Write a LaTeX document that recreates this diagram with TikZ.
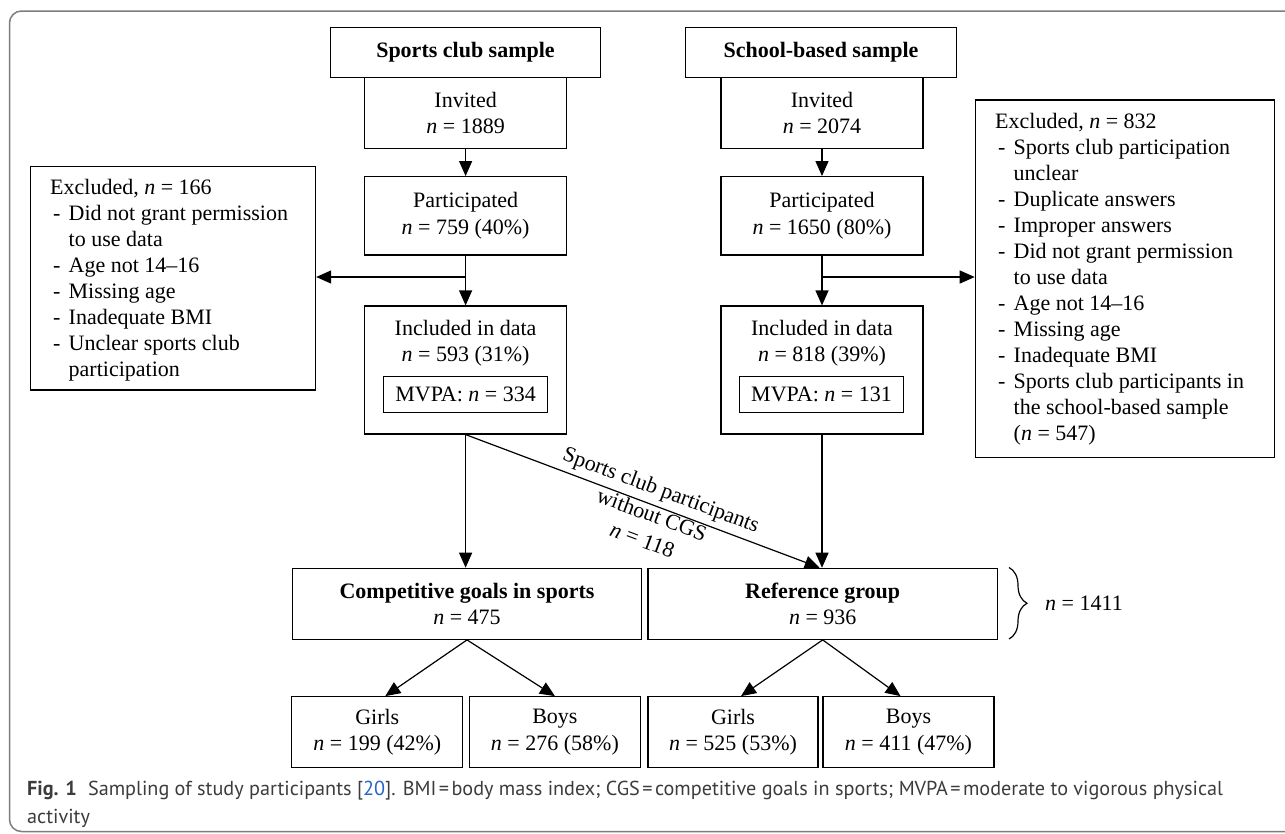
\documentclass[tikz,border=0pt]{standalone}
\usepackage{fontspec}
\setmainfont{Liberation Serif}
\newfontfamily\capfont{PT Sans}
\usetikzlibrary{arrows.meta,decorations.pathreplacing}
\definecolor{capgray}{RGB}{60,60,60}
\definecolor{linkblue}{RGB}{40,100,200}
\definecolor{framegray}{RGB}{125,125,125}
\newcommand{\dashitem}{\makebox[18.5pt][l]{\hspace{3pt}-}}
\newcommand{\contitem}{\hspace*{18.5pt}}
\begin{document}
\begin{tikzpicture}[x=1pt,y=-1pt,
  every node/.style={font=\fontsize{22pt}{26.5pt}\selectfont, align=center, inner sep=0pt},
  box/.style={draw=black, line width=1.2pt},
  arr/.style={-{Triangle[length=15pt,width=13pt]}, line width=1.2pt},
  lst/.style={align=left, anchor=west, font=\fontsize{22pt}{26pt}\selectfont}
]
\useasboundingbox (0,0) rectangle (1285,833);
\clip (0,0) rectangle (1285,833);
\fill[white] (0,0) rectangle (1285,833);
% frame
\draw[framegray, line width=1.5pt, rounded corners=12pt] (1300,11) -- (9.5,11) -- (9.5,831.5) -- (1300,831.5);

% sports club column
\node[box, minimum width=270pt, minimum height=50pt] (schead) at (465.5,52.3) {\textbf{Sports club sample}};
\node[box, minimum width=202pt, minimum height=71pt] (scinv) at (465.6,112.8) {Invited\\\textit{n} = 1889};
\node[box, minimum width=202pt, minimum height=78.3pt] (scpart) at (465.6,215.8) {Participated\\\textit{n} = 759 (40\%)};
\node[box, minimum width=202pt, minimum height=128pt] (scinc) at (465.6,370) {};
\node (scinctext) at (465.6,343.3) {Included in data\\\textit{n} = 593 (31\%)};
\node[box, minimum width=164pt, minimum height=35.6pt] (scmv) at (465.6,394.5) {MVPA: \textit{n} = 334};

% school column
\node[box, minimum width=271pt, minimum height=50pt] (shhead) at (821,52.3) {\textbf{School-based sample}};
\node[box, minimum width=202pt, minimum height=71pt] (shinv) at (822,112.8) {Invited\\\textit{n} = 2074};
\node[box, minimum width=202pt, minimum height=78.3pt] (shpart) at (822,215.8) {Participated\\\textit{n} = 1650 (80\%)};
\node[box, minimum width=202pt, minimum height=128pt] (shinc) at (822,370) {};
\node (shinctext) at (822,343.3) {Included in data\\\textit{n} = 818 (39\%)};
\node[box, minimum width=164pt, minimum height=35.6pt] (shmv) at (821.5,394.5) {MVPA: \textit{n} = 131};

% excluded boxes
\node[box, minimum width=285pt, minimum height=223.3pt] (exl) at (173.05,278.35) {};
\node[lst] (exltext) at (50,280.5) {Excluded, \textit{n} = 166\\
\dashitem Did not grant permission\\
\contitem to use data\\
\dashitem Age not 14--16\\
\dashitem Missing age\\
\dashitem Inadequate BMI\\
\dashitem Unclear sports club\\
\contitem participation};

\node[box, minimum width=299.4pt, minimum height=357.3pt] (exr) at (1125,278.65) {};
\node[lst] (exrtext) at (995,279.5) {Excluded, \textit{n} = 832\\
\dashitem Sports club participation\\
\contitem unclear\\
\dashitem Duplicate answers\\
\dashitem Improper answers\\
\dashitem Did not grant permission\\
\contitem to use data\\
\dashitem Age not 14--16\\
\dashitem Missing age\\
\dashitem Inadequate BMI\\
\dashitem Sports club participants in\\
\contitem the school-based sample\\
\contitem (\textit{n} = 547)};

% groups
\node[box, minimum width=349.5pt, minimum height=71pt] (cgs) at (467,603.8) {\textbf{Competitive goals in sports}\\\textit{n} = 475};
\node[box, minimum width=349.4pt, minimum height=71pt] (ref) at (822.7,603.8) {\textbf{Reference group}\\\textit{n} = 936};
\node[box, minimum width=171pt, minimum height=70.6pt] (g1) at (377.3,732) {Girls\\\textit{n} = 199 (42\%)};
\node[box, minimum width=171pt, minimum height=70.6pt] (b1) at (554.9,732) {Boys\\\textit{n} = 276 (58\%)};
\node[box, minimum width=170pt, minimum height=70.6pt] (g2) at (733,732) {Girls\\\textit{n} = 525 (53\%)};
\node[box, minimum width=171pt, minimum height=70.6pt] (b2) at (908.5,732) {Boys\\\textit{n} = 411 (47\%)};

% arrows
\draw[arr] (scinv.south) -- (scpart.north);
\draw[arr] (scpart.south) -- (scinc.north);
\coordinate (brl) at (465.6,277);
\draw[arr] (brl) -- (brl -| exl.east);
\draw[arr] (shinv.south) -- (shpart.north);
\draw[arr] (shpart.south) -- (shinc.north);
\coordinate (brr) at (822,277);
\draw[arr] (brr) -- (brr -| exr.west);
\draw[arr] (scinc.south) -- (scinc.south |- cgs.north);
\draw[arr] (scinc.south) -- ([xshift=-3pt]ref.north);
\draw[arr] (shinc.south) -- (shinc.south |- ref.north);
\draw[arr] (cgs.south) -- ([xshift=8pt]g1.north);
\draw[arr] (cgs.south) -- (b1.north);
\draw[arr] (ref.south) -- ([xshift=8pt]g2.north);
\draw[arr] (ref.south) -- ([xshift=-8pt]b2.north);

\node[rotate=-20.5, font=\fontsize{22pt}{27pt}\selectfont] (difflabel) at (652,514.5) {Sports club participants\\without CGS\\\textit{n} = 118};

% brace
\coordinate (bt) at (1009,567.5);
\coordinate (bb) at (1009,639);
\draw[decorate, decoration={brace, amplitude=18pt}, line width=1.2pt] (bt) -- (bb);
\node[anchor=west] (total) at (1045,603.5) {\textit{n} = 1411};

% caption
\node[anchor=base west, align=left, inner sep=0pt, text=capgray,
      font=\capfont\fontsize{20.2pt}{27.6pt}\selectfont] (caption) at (27,823.3)
  {\textbf{Fig. 1}\hspace{0.55em}Sampling of study participants [\textcolor{linkblue}{20}]. BMI\hspace{0.12em}=\hspace{0.12em}body mass index; CGS\hspace{0.12em}=\hspace{0.12em}competitive goals in sports; MVPA\hspace{0.12em}=\hspace{0.12em}moderate to vigorous physical\\activity};
\end{tikzpicture}
\end{document}
